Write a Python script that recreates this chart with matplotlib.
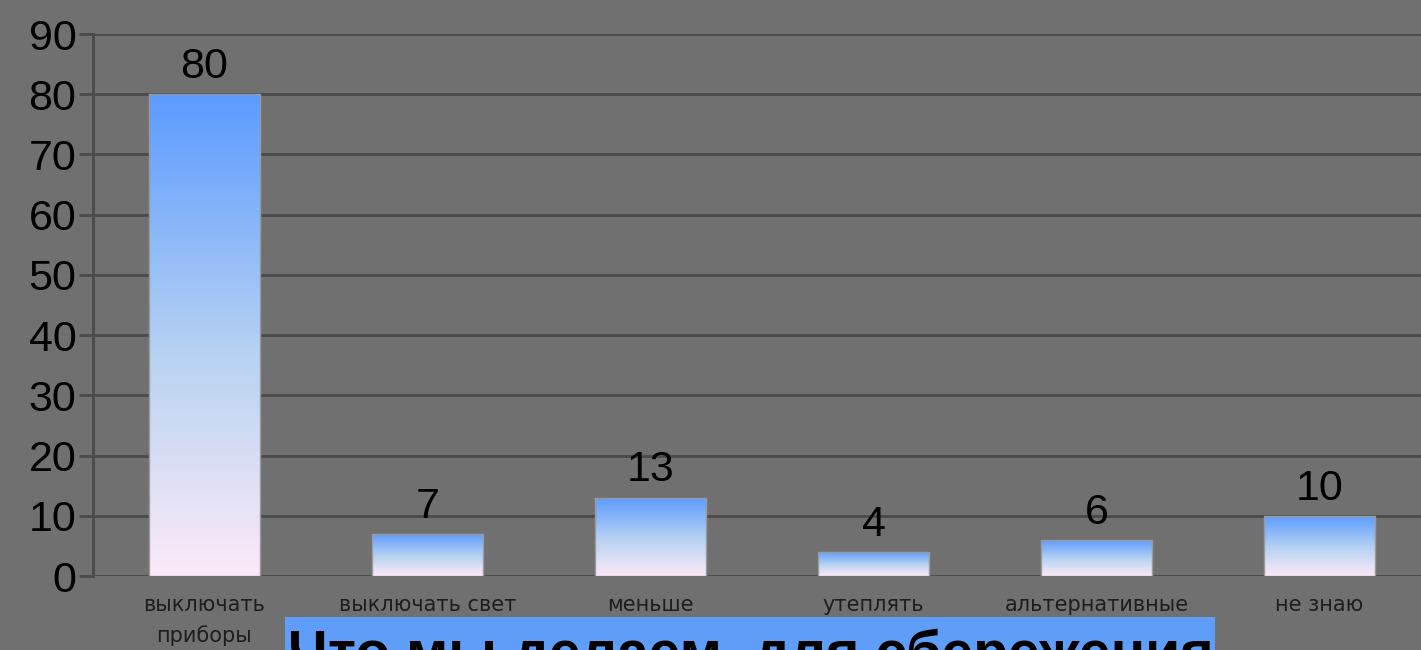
import numpy as np
import matplotlib
matplotlib.use("Agg")
import matplotlib.pyplot as plt
from matplotlib.colors import LinearSegmentedColormap
from matplotlib.patches import Rectangle

categories = ["выключать\nприборы", "выключать свет", "меньше", "утеплять", "альтернативные", "не знаю"]
values = [80, 7, 13, 4, 6, 10]
yticks = [0, 10, 20, 30, 40, 50, 60, 70, 80, 90]
title = "Что мы делаем, для сбережения"

plt.rcParams['font.family'] = ['Liberation Sans', 'DejaVu Sans']

BG = "#707070"
GRID = "#4a4a4a"

fig = plt.figure(figsize=(14.21, 6.5), dpi=100, facecolor=BG)
ax = fig.add_axes([93/1421, 74/650, 1338/1421, 542/650], facecolor=BG)

cmap = LinearSegmentedColormap.from_list(
    "g", [(0.0, "#fceaf8"), (0.45, "#b9d3f2"), (1.0, "#5b9bff")])
grad = np.linspace(0, 1, 256).reshape(-1, 1)

x = np.arange(len(categories))
width = 0.494
bars = ax.bar(x, values, width=width, color="none", edgecolor="#9a9a9a", linewidth=1.0, zorder=3)
for b, v in zip(bars, values):
    x0 = b.get_x()
    im = ax.imshow(grad, cmap=cmap, aspect="auto", origin="lower",
                   extent=[x0, x0 + b.get_width(), 0, v], zorder=2)
    im.set_clip_path(b)
    ax.text(b.get_x() + b.get_width() / 2, v + 1.2, str(v), ha="center", va="bottom",
            fontsize=31, color="black", zorder=4)

ax.set_xlim(-0.5, len(categories) - 0.5)
ax.set_ylim(0, 90)
ax.set_yticks(yticks)
ax.set_yticklabels([str(t) for t in yticks], fontsize=31, color="black")
ax.tick_params(axis="y", direction="out", length=10, width=2, color=GRID, pad=2)
ax.set_xticks(x)
ax.set_xticklabels(categories, fontsize=15, color="#1e1e1e", linespacing=1.55,
                   family=["DejaVu Sans"])
ax.tick_params(axis="x", length=0, pad=14)
for s in ["top", "right", "bottom"]:
    ax.spines[s].set_visible(False)
ax.spines["left"].set_color(GRID)
ax.spines["left"].set_linewidth(2)
ax.yaxis.grid(True, color=GRID, linewidth=2, zorder=1)
ax.set_axisbelow(True)

# title box (partially visible at the bottom)
fig.patches.append(Rectangle((285/1421, 0), (1215-285)/1421, 33/650,
                             transform=fig.transFigure, facecolor="#5e9ef8",
                             edgecolor="none", zorder=10))
fig.text(288/1421, -21/650, title, fontsize=41, fontweight="bold", color="black",
         ha="left", va="baseline", zorder=11)

fig.savefig("out.png", dpi=100, facecolor=BG)
